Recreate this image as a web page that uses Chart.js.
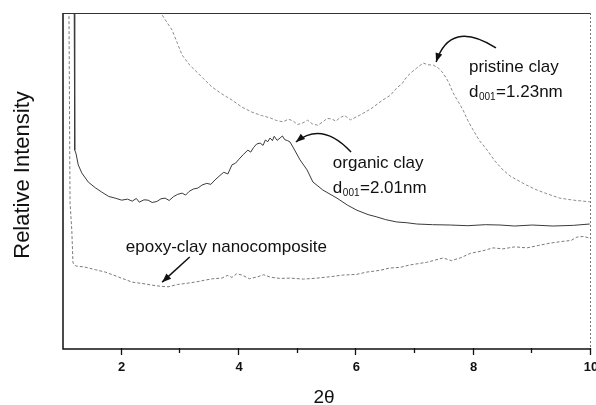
<!DOCTYPE html>
<html>
<head>
<meta charset="utf-8">
<script src="https://cdn.jsdelivr.net/npm/chart.js@4.4.0/dist/chart.umd.min.js"></script>
<style>
html,body{margin:0;padding:0;background:#fff;}
#wrap{width:596px;height:405px;position:relative;}
</style>
</head>
<body>
<div id="wrap"><canvas id="c" width="596" height="405"></canvas></div>
<script>
// ---- data (2θ in degrees, relative intensity in arbitrary units) ----
const organicX = [1.19,1.20,1.22,1.26,1.32,1.43,1.55,1.66,1.78,1.89,2.0,2.1,2.18,2.25,2.3,2.38,2.45,2.52,2.6,2.67,2.74,2.81,2.88,2.95,3.03,3.09,3.15,3.22,3.30,3.37,3.45,3.52,3.59,3.66,3.74,3.81,3.88,3.94,4.0,4.07,4.15,4.2,4.25,4.3,4.36,4.41,4.45,4.49,4.53,4.57,4.6,4.65,4.70,4.74,4.78,4.83,4.87,4.92,5.04,5.16,5.26,5.43,5.67,5.85,6.01,6.2,6.35,6.5,6.69,6.85,7.03,7.3,7.6,7.9,8.2,8.45,8.7,9.0,9.35,9.7,9.98];
const organicY = [105,59.2,58.3,54.8,52.4,49.7,48.0,46.7,45.4,44.9,44.3,44.6,44.0,44.8,43.7,44.4,44.3,43.6,43.9,44.7,44.9,44.2,45.3,46.0,46.4,45.8,46.9,47.6,47.9,48.8,49.3,49.0,50.3,51.4,52.6,52.1,54.8,55.3,56.5,57.8,59.2,58.6,60.0,61.0,61.3,60.6,62.2,61.7,62.8,62.0,63.3,62.1,62.8,63.4,62.3,62.0,61.6,60.1,56.3,53.3,49.7,47.3,44.9,42.8,41.3,40.0,39.3,38.5,37.8,37.6,37.2,37.0,36.9,36.7,37.0,36.9,36.6,36.9,36.6,36.8,37.2];

const pristineX = [2.5,2.69,2.78,2.86,2.95,3.03,3.16,3.30,3.42,3.54,3.7,3.88,4.05,4.22,4.38,4.53,4.64,4.75,4.84,4.92,5.0,5.09,5.17,5.25,5.34,5.43,5.5,5.58,5.65,5.72,5.8,5.9,6.06,6.25,6.45,6.58,6.69,6.78,6.86,6.95,7.03,7.14,7.22,7.31,7.40,7.48,7.57,7.65,7.74,7.82,7.9,7.99,8.1,8.23,8.36,8.50,8.62,8.74,8.9,9.08,9.25,9.47,9.7,9.98];
const pristineY = [106,99.4,97.0,94.9,91.0,87.5,84.5,82.1,80.0,78.0,76.0,74.1,72.0,70.5,69.5,68.8,68.0,67.6,68.4,67.9,66.8,67.3,68.1,67.0,66.6,67.6,68.6,68.5,67.8,68.8,69.5,68.2,69.6,71.5,74.1,75.5,77.7,79.0,81.0,82.5,83.6,85.1,84.6,84.5,83.6,82.1,79.5,76.2,73.5,71.1,68.0,65.2,62.0,59.2,56.0,53.3,51.5,50.3,48.8,47.3,46.2,44.9,44.3,43.8];

const epoxyX = [1.10,1.12,1.15,1.17,1.22,1.37,1.55,1.72,1.95,2.18,2.35,2.52,2.65,2.79,2.95,3.13,3.28,3.42,3.55,3.71,3.80,3.88,3.96,4.05,4.18,4.3,4.42,4.53,4.7,4.87,5.1,5.33,5.55,5.77,6.0,6.18,6.4,6.57,6.75,6.91,7.2,7.48,7.62,7.77,7.95,8.15,8.33,8.5,8.7,8.91,9.1,9.30,9.5,9.66,9.76,9.87,9.98];
const epoxyY = [105,43.5,35.4,25.6,24.7,24.4,23.6,22.9,21.4,19.9,19.5,19.0,18.7,18.5,19.2,19.6,20.0,20.5,20.9,21.1,21.9,21.3,22.4,22.0,20.9,21.4,22.1,21.4,21.0,21.1,20.8,21.1,21.5,22.0,22.2,22.9,23.4,24.1,24.3,25.0,25.8,27.1,26.3,27.1,28.5,29.2,30.1,29.8,30.4,30.1,30.8,31.5,32.0,32.3,33.3,33.5,33.0];

const majorTicks = [2,4,6,8,10];
const minorTicks = [3,5,7,9];
const xTitle = '2θ';
const yTitle = 'Relative Intensity';

// annotation texts (positions in data units)
const labels = [
  {x:7.92, y:83.9, lines:[['pristine clay'], ['d','001','=1.23nm']]},
  {x:5.60, y:55.4, lines:[['organic clay'], ['d','001','=2.01nm']]},
  {x:2.07, y:30.4, lines:[['epoxy-clay nanocomposite']]}
];
const arrows = [
  {from:[8.38,89.6], ctrl:[7.60,98.2], to:[7.36,85.4]},
  {from:[5.91,58.6], ctrl:[5.42,67.9], to:[4.97,61.6]},
  {from:[3.16,27.4], ctrl:null, to:[2.69,19.9]}
];

const zip = (xs, ys) => xs.map((x,i)=>({x:x, y:ys[i]}));

const FONT = '"Liberation Sans", Arial, Helvetica, sans-serif';

const decor = {
  id:'decor',
  afterDatasetsDraw(chart){
    const ctx = chart.ctx, a = chart.chartArea;
    const xs = chart.scales.x, ys = chart.scales.y;
    ctx.save();
    // frame
    ctx.strokeStyle = '#111';
    ctx.lineWidth = 1.5;
    ctx.beginPath();
    ctx.moveTo(a.left, a.top); ctx.lineTo(a.left, a.bottom); ctx.lineTo(a.right, a.bottom);
    ctx.stroke();
    ctx.lineWidth = 1;
    ctx.strokeStyle = '#333';
    ctx.beginPath(); ctx.moveTo(a.left, a.top+0.5); ctx.lineTo(a.right, a.top+0.5); ctx.stroke();
    ctx.strokeStyle = '#777';
    ctx.setLineDash([2,2]);
    ctx.beginPath(); ctx.moveTo(a.right-0.5, a.top); ctx.lineTo(a.right-0.5, a.bottom); ctx.stroke();
    ctx.setLineDash([]);
    // ticks
    ctx.strokeStyle = '#111';
    ctx.lineWidth = 1.3;
    majorTicks.forEach(v=>{
      const px = Math.round(xs.getPixelForValue(v))-0.5;
      ctx.beginPath(); ctx.moveTo(px, a.bottom-1); ctx.lineTo(px, a.bottom+6); ctx.stroke();
    });
    minorTicks.forEach(v=>{
      const px = Math.round(xs.getPixelForValue(v))-0.5;
      ctx.beginPath(); ctx.moveTo(px, a.bottom-1); ctx.lineTo(px, a.bottom+4); ctx.stroke();
    });
    // titles
    ctx.fillStyle = '#111';
    ctx.textAlign = 'center';
    ctx.textBaseline = 'middle';
    ctx.font = '19px ' + FONT;
    ctx.fillText(xTitle, (a.left+a.right)/2 - 3, 398);
    ctx.save();
    ctx.translate(22.5, 175);
    ctx.rotate(-Math.PI/2);
    ctx.font = '22px ' + FONT;
    ctx.fillText(yTitle, 0, 0);
    ctx.restore();
    // annotation text
    ctx.textAlign = 'left';
    ctx.textBaseline = 'middle';
    labels.forEach(l=>{
      const x0 = xs.getPixelForValue(l.x);
      let y0 = ys.getPixelForValue(l.y);
      l.lines.forEach((parts, li)=>{
        const y = y0 + li*25;
        let x = x0;
        if (parts.length === 1){
          ctx.font = '17px ' + FONT;
          ctx.fillText(parts[0], x, y);
        } else {
          ctx.font = '17px ' + FONT;
          ctx.fillText(parts[0], x, y);
          x += ctx.measureText(parts[0]).width + 0.5;
          ctx.font = '10px ' + FONT;
          ctx.fillText(parts[1], x, y+5);
          x += ctx.measureText(parts[1]).width + 0.5;
          ctx.font = '17px ' + FONT;
          ctx.fillText(parts[2], x, y);
        }
      });
    });
    // arrows
    ctx.strokeStyle = '#111';
    ctx.fillStyle = '#111';
    ctx.lineWidth = 1.5;
    arrows.forEach(ar=>{
      const P = p => [xs.getPixelForValue(p[0]), ys.getPixelForValue(p[1])];
      const s = P(ar.from), e = P(ar.to);
      const c = ar.ctrl ? P(ar.ctrl) : s;
      ctx.beginPath();
      ctx.moveTo(s[0], s[1]);
      if (ar.ctrl) ctx.quadraticCurveTo(c[0], c[1], e[0], e[1]); else ctx.lineTo(e[0], e[1]);
      ctx.stroke();
      const ang = Math.atan2(e[1]-c[1], e[0]-c[0]);
      const L = 9, W = 3.5;
      ctx.beginPath();
      ctx.moveTo(e[0], e[1]);
      ctx.lineTo(e[0] - L*Math.cos(ang) + W*Math.sin(ang), e[1] - L*Math.sin(ang) - W*Math.cos(ang));
      ctx.lineTo(e[0] - L*Math.cos(ang) - W*Math.sin(ang), e[1] - L*Math.sin(ang) + W*Math.cos(ang));
      ctx.closePath();
      ctx.fill();
    });
    ctx.restore();
  }
};

new Chart(document.getElementById('c'), {
  type:'line',
  data:{
    datasets:[
      {label:'pristine clay', data:zip(pristineX, pristineY), borderColor:'#8c8c8c', borderWidth:1, borderDash:[3,2], pointRadius:0, fill:false, tension:0},
      {label:'organic clay', data:zip(organicX, organicY), borderColor:'#3a3a3a', borderWidth:1, pointRadius:0, fill:false, tension:0},
      {label:'epoxy-clay nanocomposite', data:zip(epoxyX, epoxyY), borderColor:'#7a7a7a', borderWidth:1, borderDash:[3,2], pointRadius:0, fill:false, tension:0}
    ]
  },
  options:{
    responsive:false,
    animation:false,
    events:[],
    layout:{padding:{top:13, right:5, left:0, bottom:0}},
    plugins:{legend:{display:false}, tooltip:{enabled:false}},
    scales:{
      x:{
        type:'linear', min:1, max:10,
        grid:{display:false, drawTicks:false},
        border:{display:false},
        ticks:{
          stepSize:1, autoSkip:false, maxRotation:0, padding:11,
          color:'#111', font:{family:FONT, size:13, weight:'bold'},
          callback:(v)=> majorTicks.includes(v) ? String(v) : ''
        },
        afterFit:(s)=>{ s.height = 56; s.paddingLeft = 0; s.paddingRight = 0; }
      },
      y:{
        type:'linear', min:0, max:100,
        grid:{display:false, drawTicks:false},
        border:{display:false},
        ticks:{display:false},
        afterFit:(s)=>{ s.width = 63; }
      }
    }
  },
  plugins:[decor]
});
</script>
</body>
</html>
